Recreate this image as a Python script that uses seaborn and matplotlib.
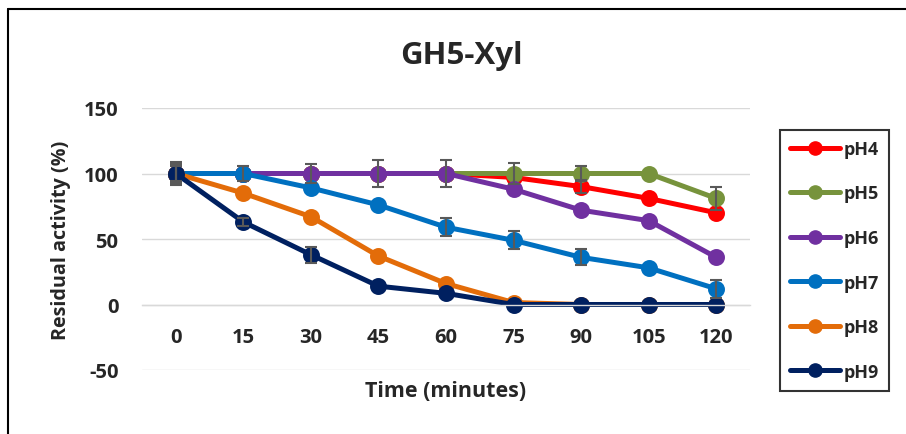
import numpy as np
import pandas as pd
import matplotlib
matplotlib.use("Agg")
import matplotlib.pyplot as plt
import seaborn as sns
from matplotlib.lines import Line2D

# ---- data ----
times = ["0", "15", "30", "45", "60", "75", "90", "105", "120"]
series_names = ["pH4", "pH5", "pH6", "pH7", "pH8", "pH9"]
ph4 = [100, 100, 100, 100, 100, 97, 90, 81, 70]
ph5 = [100, 100, 100, 100, 100, 100, 100, 100, 81]
ph6 = [100, 100, 100, 100, 100, 88, 72, 64, 36]
ph7 = [100, 100, 89, 76, 59, 49, 36, 28, 12]
ph8 = [100, 85, 67, 37, 16, 1.5, 0, 0, 0]
ph9 = [100, 63, 38, 14, 8.5, 0, 0, 0, 0]

err4 = [7, 0, 0, 0, 0, 0, 5, 0, 0]
err5 = [9, 0, 0, 0, 0, 8, 6, 0, 9]
err6 = [0, 0, 7, 10, 10, 0, 0, 0, 0]
err7 = [6, 6, 0, 0, 7, 7, 6, 0, 7]
err8 = [0, 0, 0, 0, 0, 0, 0, 0, 0]
err9 = [0, 3, 6, 0, 0, 0, 0, 0, 0]

colors = ["#FF0000", "#77933C", "#7030A0", "#0070C0", "#E36C09", "#002060"]

values = [ph4, ph5, ph6, ph7, ph8, ph9]
errors = [err4, err5, err6, err7, err8, err9]

rows = []
for name, vals in zip(series_names, values):
    for t, v in zip(times, vals):
        rows.append({"Time": t, "Value": v, "pH": name})
df = pd.DataFrame(rows)

# ---- figure ----
sns.set_style("white")
plt.rcParams["font.family"] = ["Open Sans", "DejaVu Sans"]
plt.rcParams["font.weight"] = "bold"
plt.rcParams["axes.unicode_minus"] = False

fig = plt.figure(figsize=(9.06, 4.35), dpi=100)
L, R, T, B = 142, 750, 109, 371
W, H = 906, 435
ax = fig.add_axes([L / W, 1 - B / H, (R - L) / W, (B - T) / H])

sns.pointplot(data=df, x="Time", y="Value", hue="pH", order=times,
              hue_order=series_names, palette=colors, errorbar=None,
              markers="o", markersize=9.5, linewidth=3.6, dodge=False,
              ax=ax, legend=True)

# error bars
for i, (vals, errs) in enumerate(zip(values, errors)):
    pos = [j for j, e in enumerate(errs) if e > 0]
    if pos:
        ax.errorbar(pos, [vals[j] for j in pos], yerr=[errs[j] for j in pos],
                    fmt="none", ecolor="#595959", elinewidth=1.5, capsize=4.5,
                    capthick=1.5, zorder=3 + i * 0.1)

ax.set_xlim(-0.5, len(times) - 0.5)
ax.set_ylim(-50, 150)
ax.set_yticks([-50, 0, 50, 100, 150])
ax.yaxis.grid(True, color="#d9d9d9", linewidth=1.0)
ax.set_axisbelow(True)
for s in ["top", "right", "left"]:
    ax.spines[s].set_visible(False)
ax.spines["bottom"].set_position(("data", 0))
ax.spines["bottom"].set_color("#d9d9d9")
ax.spines["bottom"].set_linewidth(1.0)

ax.set_xticks(range(len(times)))
ax.set_xticklabels(times)
ax.set_xticks(np.arange(-0.5, len(times), 1.0), minor=True)
ax.tick_params(axis="x", which="major", length=0, pad=16, labelsize=14.5)
ax.tick_params(axis="x", which="minor", length=5, width=1.0, color="#d9d9d9",
               direction="out")
ax.yaxis.set_tick_params(which="major", length=0, pad=17, labelsize=14.5)
for lbl in ax.get_xticklabels() + ax.get_yticklabels():
    lbl.set_fontweight("bold")

ax.set_xlabel("Time (minutes)", fontsize=15.5, fontweight="bold")
ax.set_ylabel("Residual activity (%)", fontsize=14.2, fontweight="bold")
ax.xaxis.label.set_va("center")
ax.yaxis.label.set_va("center")
ax.xaxis.set_label_coords(0.5, (B - 392) / (B - T))
ax.yaxis.set_label_coords((61 - L) / (R - L), 0.5)

fig.text(461 / W, 1 - 56 / H, "GH5-Xyl", ha="center", va="center",
         fontsize=22.5, fontweight="bold")

# legend
handles = [Line2D([0], [0], color=c, lw=3.6, marker="o", markersize=9.5)
           for c in colors]
if ax.get_legend() is not None:
    ax.get_legend().remove()
leg = fig.legend(handles, series_names, loc="upper left",
                 bbox_to_anchor=(780 / W, 1 - 131 / H),
                 frameon=True, fancybox=False, edgecolor="black",
                 prop={"size": 13, "weight": "bold"}, handlelength=2.8,
                 handletextpad=0.2, labelspacing=1.47, borderpad=0.55,
                 borderaxespad=0)
leg.get_frame().set_linewidth(1.5)

# outer chart border (cropped)
fig.add_artist(Line2D([8 / W, 1.2], [1 - 10 / H, 1 - 10 / H], color="black",
                      lw=1.5, transform=fig.transFigure))
fig.add_artist(Line2D([8 / W, 8 / W], [-0.2, 1 - 10 / H], color="black",
                      lw=1.5, transform=fig.transFigure))

fig.savefig("out.png", dpi=100)
